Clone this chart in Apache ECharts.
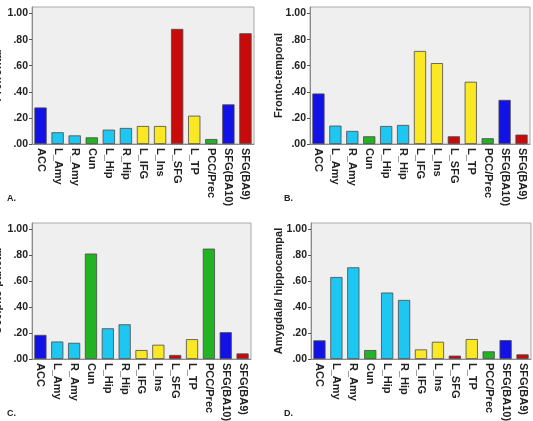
<!DOCTYPE html>
<html>
<head>
<meta charset="utf-8">
<script src="https://cdn.jsdelivr.net/npm/echarts@6/dist/echarts.min.js"></script>
<style>
  html, body { margin: 0; padding: 0; background: #fff; }
  #chart { width: 533px; height: 421px; }
</style>
</head>
<body>
<div id="chart"></div>
<script>
// regions on the x axis
var regions = ["ACC", "L_Amy", "R_Amy", "Cun", "L_Hip", "R_Hip", "L_IFG", "L_Ins", "L_SFG", "L_TP", "PCC/Prec", "SFG(BA10)", "SFG(BA9)"];
// colour group of each region
var regionColors = ["#1212e6", "#1ec6f2", "#1ec6f2", "#22b322", "#1ec6f2", "#1ec6f2", "#fbe824", "#fbe824", "#c80a0a", "#fbe824", "#22b322", "#1212e6", "#c80a0a"];

var prefrontal = [0.28, 0.09, 0.066, 0.051, 0.11, 0.123, 0.138, 0.138, 0.882, 0.217, 0.038, 0.304, 0.849];
var frontoTemporal = [0.387, 0.141, 0.10, 0.059, 0.138, 0.146, 0.713, 0.62, 0.059, 0.477, 0.044, 0.338, 0.072];
var occipitoParietal = [0.186, 0.135, 0.125, 0.814, 0.237, 0.268, 0.069, 0.11, 0.031, 0.153, 0.852, 0.207, 0.043];
var amygHippo = [0.144, 0.633, 0.708, 0.069, 0.513, 0.456, 0.074, 0.133, 0.026, 0.154, 0.059, 0.146, 0.036];

var yTicks = [0, 0.2, 0.4, 0.6, 0.8, 1.0];

var panels = [
  { name: "Prefrontal", letter: "A.", data: prefrontal, gap: 29, grid: { left: 32, top: 7, width: 222, height: 137 }, letterPos: [2, 189] },
  { name: "Fronto-temporal", letter: "B.", data: frontoTemporal, gap: 26, grid: { left: 310, top: 7, width: 220, height: 137 }, letterPos: [279, 189] },
  { name: "Occipito-parietal", letter: "C.", data: occipitoParietal, gap: 29, grid: { left: 32, top: 223, width: 219, height: 136 }, letterPos: [2, 404] },
  { name: "Amygdala/ hippocampal", letter: "D.", data: amygHippo, gap: 27, grid: { left: 311, top: 223, width: 220, height: 136 }, letterPos: [279, 404] }
];

var font = "'Liberation Sans', Arial, sans-serif";
var chart = echarts.init(document.getElementById("chart"));

var option = {
  animation: false,
  backgroundColor: "#fff",
  title: [],
  grid: [],
  xAxis: [],
  yAxis: [],
  series: []
};

panels.forEach(function (p, i) {
  option.grid.push(Object.assign({
    show: true,
    outerBoundsMode: "none",
    containLabel: false,
    backgroundColor: "#efefef",
    borderColor: "#a8a8a8",
    borderWidth: 1
  }, p.grid));

  option.title.push({
    text: p.letter,
    left: p.letterPos[0],
    top: p.letterPos[1],
    textStyle: { fontFamily: font, fontSize: 9, fontWeight: "bold", color: "#222" }
  });

  option.xAxis.push({
    type: "category",
    gridIndex: i,
    data: regions,
    axisLine: { lineStyle: { color: "#8a8a8a", width: 1 } },
    axisTick: { alignWithLabel: true, length: 3, lineStyle: { color: "#555" } },
    axisLabel: {
      rotate: -90,
      interval: 0,
      margin: 4,
      fontFamily: font,
      fontSize: 11,
      fontWeight: "bold",
      color: "#222"
    }
  });

  option.yAxis.push({
    type: "value",
    gridIndex: i,
    min: 0,
    max: 1.05,
    name: p.name,
    nameLocation: "middle",
    nameGap: p.gap,
    nameMoveOverlap: false,
    nameTextStyle: { fontFamily: font, fontSize: 11, fontWeight: "bold", color: "#222" },
    splitLine: { show: false },
    axisLine: { show: true, lineStyle: { color: "#8a8a8a" } },
    axisTick: { show: true, length: 3, customValues: yTicks, lineStyle: { color: "#555" } },
    axisLabel: {
      customValues: yTicks,
      margin: 4,
      fontFamily: font,
      fontSize: 10.5,
      fontWeight: "bold",
      color: "#222",
      formatter: function (v) { return v.toFixed(2).replace(/^0/, ""); }
    }
  });

  option.series.push({
    type: "bar",
    xAxisIndex: i,
    yAxisIndex: i,
    barCategoryGap: "28%",
    data: p.data.map(function (v, k) {
      return { value: v, itemStyle: { color: regionColors[k] } };
    }),
    itemStyle: { borderColor: "#4a4a4a", borderWidth: 0.8 }
  });
});

chart.setOption(option);
</script>
</body>
</html>
